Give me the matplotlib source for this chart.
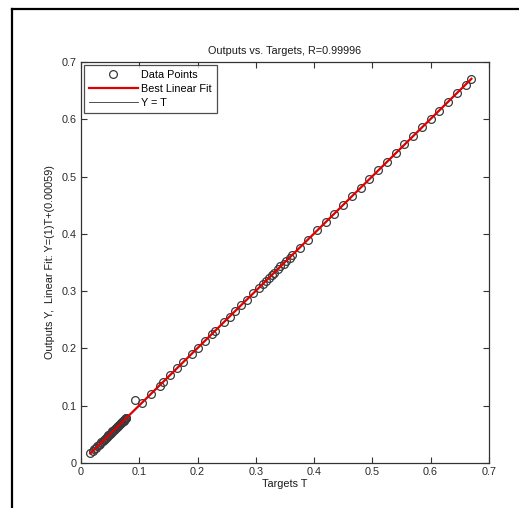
import numpy as np
import matplotlib
matplotlib.use("Agg")
import matplotlib.pyplot as plt
from matplotlib.lines import Line2D

plt.rcParams['font.family'] = ['Liberation Sans', 'DejaVu Sans']

# targets T and network outputs Y
targets = [0.016, 0.020, 0.023, 0.026, 0.028, 0.031, 0.033, 0.035, 0.037, 0.039,
           0.041, 0.043, 0.044, 0.046, 0.047, 0.049, 0.050, 0.052, 0.053, 0.054,
           0.056, 0.057, 0.058, 0.060, 0.061, 0.062, 0.063, 0.064, 0.066, 0.067,
           0.068, 0.069, 0.070, 0.071, 0.072, 0.073, 0.074, 0.075, 0.076, 0.077,
           0.078,
           0.093, 0.105, 0.120, 0.135, 0.140, 0.152, 0.165, 0.175, 0.190, 0.200,
           0.212, 0.225, 0.230, 0.245, 0.255, 0.265, 0.275, 0.285, 0.295, 0.305,
           0.312, 0.318, 0.322, 0.328, 0.332, 0.338, 0.342, 0.348, 0.352, 0.358,
           0.362, 0.375, 0.390, 0.405, 0.420, 0.435, 0.450, 0.465, 0.480, 0.495,
           0.510, 0.525, 0.540, 0.555, 0.570, 0.585, 0.600, 0.615, 0.630, 0.645,
           0.660, 0.670]
outputs = [0.017, 0.021, 0.024, 0.027, 0.029, 0.032, 0.034, 0.036, 0.038, 0.040,
           0.042, 0.044, 0.045, 0.047, 0.048, 0.050, 0.051, 0.053, 0.054, 0.055,
           0.057, 0.058, 0.059, 0.061, 0.062, 0.063, 0.064, 0.065, 0.067, 0.068,
           0.069, 0.070, 0.071, 0.072, 0.073, 0.074, 0.075, 0.076, 0.077, 0.078,
           0.079,
           0.110, 0.104, 0.121, 0.135, 0.141, 0.153, 0.165, 0.176, 0.190, 0.201,
           0.213, 0.225, 0.231, 0.246, 0.255, 0.266, 0.276, 0.285, 0.296, 0.306,
           0.313, 0.318, 0.323, 0.329, 0.332, 0.339, 0.343, 0.348, 0.353, 0.358,
           0.363, 0.376, 0.390, 0.406, 0.421, 0.435, 0.451, 0.466, 0.480, 0.496,
           0.511, 0.525, 0.541, 0.556, 0.570, 0.586, 0.601, 0.615, 0.631, 0.646,
           0.660, 0.671]
slope = 1.0
intercept = 0.00059
R = 0.99996

ticks = [0, 0.1, 0.2, 0.3, 0.4, 0.5, 0.6, 0.7]

fig = plt.figure(figsize=(5.19, 5.08), dpi=100)
ax = fig.add_axes([0.156, 0.0886, 0.786, 0.7894])

# outer frame (only top/left visible in the reference)
fig.add_artist(Line2D([12/519, 1.0], [1 - 9/508, 1 - 9/508], color='black', lw=1.6,
                      transform=fig.transFigure))
fig.add_artist(Line2D([12/519, 12/519], [0.0, 1 - 9/508], color='black', lw=1.6,
                      transform=fig.transFigure))

T = np.array(targets)
Y = np.array(outputs)
tline = np.array([T.min(), T.max()])

ax.plot(T, Y, 'o', mfc='none', mec='#3a3a3a', mew=0.9, ms=5.6, label='Data Points', zorder=3)
ax.plot(tline, slope * tline + intercept, color='#e00000', lw=1.6, label='Best Linear Fit', zorder=4)
ax.plot(tline, tline, color='#333333', lw=0.6, label='Y = T', zorder=2)

ax.set_xlim(0, 0.7)
ax.set_ylim(0, 0.7)
ax.set_xticks(ticks)
ax.set_yticks(ticks)
ax.set_xticklabels(['0', '0.1', '0.2', '0.3', '0.4', '0.5', '0.6', '0.7'])
ax.set_yticklabels(['0', '0.1', '0.2', '0.3', '0.4', '0.5', '0.6', '0.7'])
ax.tick_params(direction='in', top=True, right=True, length=4, width=0.8,
               labelsize=7.8, labelcolor='#2a2a2a', color='#333333', pad=3)
for s in ax.spines.values():
    s.set_color('#333333')
    s.set_linewidth(0.9)

ax.set_title('Outputs vs. Targets, R=%.5f' % R, fontsize=7.8, pad=6, color='#1a1a1a')
ax.set_xlabel('Targets T', fontsize=7.8, labelpad=1, color='#1a1a1a')
ax.set_ylabel('Outputs Y,  Linear Fit: Y=(1)T+(%.5f)' % intercept, fontsize=7.8,
              labelpad=5, color='#1a1a1a')

leg = ax.legend(loc='upper left', fontsize=7.8, frameon=True, fancybox=False,
                borderaxespad=0.3, handlelength=4.5, handletextpad=0.3,
                labelspacing=0.35, borderpad=0.45)
leg.get_frame().set_edgecolor('#222222')
leg.get_frame().set_linewidth(0.9)

fig.savefig('out.png', dpi=100)
